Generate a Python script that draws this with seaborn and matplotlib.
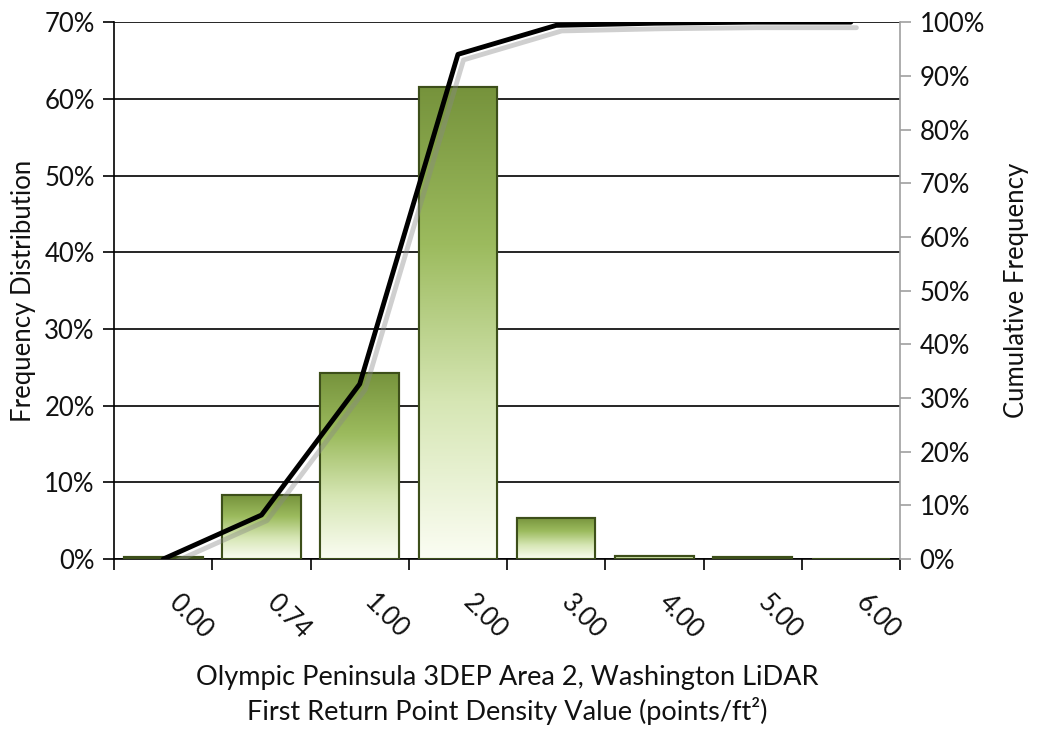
import numpy as np
import pandas as pd
import matplotlib
matplotlib.use('Agg')
import matplotlib.pyplot as plt
import matplotlib.patheffects as pe
from matplotlib.colors import LinearSegmentedColormap
from matplotlib.ticker import PercentFormatter, FixedLocator
import seaborn as sns

# Data
density_bins = ['0.00', '0.74', '1.00', '2.00', '3.00', '4.00', '5.00', '6.00']
freq_pct = [0.25, 8.3, 24.3, 61.5, 5.4, 0.45, 0.25, 0.0]
cum_pct = [0.0, 8.2, 32.6, 94.0, 99.4, 99.8, 100.0, 100.0]

sns.set_theme(style='white')
plt.rcParams['font.family'] = ['Lato', 'DejaVu Sans']
plt.rcParams['text.color'] = '#111111'
plt.rcParams['axes.labelcolor'] = '#111111'
plt.rcParams['xtick.color'] = '#111111'
plt.rcParams['ytick.color'] = '#111111'
FS = 18.5

fig = plt.figure(figsize=(10.38, 7.38), dpi=100)
ax = fig.add_axes([0.110, 0.2425, 0.757, 0.7275])

df = pd.DataFrame({'bin': density_bins, 'freq': freq_pct})
sns.barplot(data=df, x='bin', y='freq', ax=ax, color='#76933c', width=0.8,
            edgecolor='#3d4f1a', linewidth=1.5, zorder=3)

# gradient fill inside each bar (dark olive at top -> pale at bottom)
grad = LinearSegmentedColormap.from_list('olive', ['#fbfdf3', '#d6e6b4', '#9cbb5e', '#76933c'])
img = np.linspace(0, 1, 256).reshape(-1, 1)
for bar in ax.patches:
    x0, y0 = bar.get_x(), bar.get_y()
    w, h = bar.get_width(), bar.get_height()
    if h <= 0:
        continue
    im = ax.imshow(img, cmap=grad, origin='lower', aspect='auto',
                   extent=[x0, x0 + w, y0, y0 + h], zorder=3.5)
    im.set_clip_path(bar)
    # redraw outline on top
    ax.add_patch(plt.Rectangle((x0, y0), w, h, fill=False, edgecolor='#3d4f1a',
                               linewidth=1.5, zorder=4))

ax.set_xlim(-0.5, len(density_bins) - 0.5)
ax.set_ylim(0, 70)
ax.yaxis.set_major_locator(FixedLocator(np.arange(0, 71, 10)))
ax.yaxis.set_major_formatter(PercentFormatter(decimals=0))
ax.grid(axis='y', color='black', linewidth=1.2, zorder=0)
ax.set_axisbelow(True)

for side in ['top', 'right']:
    ax.spines[side].set_visible(False)
for side in ['left', 'bottom']:
    ax.spines[side].set_color('black')
    ax.spines[side].set_linewidth(1.2)

ax.tick_params(axis='y', which='major', direction='out', length=8, width=1.2,
               color='black', left=True, labelsize=FS, pad=6)
ax.tick_params(axis='x', which='major', length=0, labelsize=FS, pad=22)
ax.set_xticks(np.arange(len(density_bins)))
ax.set_xticklabels(density_bins, rotation=-45, ha='left', va='top')
ax.set_xticks(np.arange(-0.5, len(density_bins)), minor=True)
ax.tick_params(axis='x', which='minor', direction='out', length=8, width=1.2,
               color='black', bottom=True)

ax.set_xlabel('Olympic Peninsula 3DEP Area 2, Washington LiDAR\n'
              'First Return Point Density Value (points/ft\u00b2)',
              fontsize=19.5, labelpad=16, linespacing=1.3)
ax.set_ylabel('Frequency Distribution', fontsize=FS, labelpad=6)

# cumulative line on the right axis
ax2 = ax.twinx()
sns.lineplot(x=np.arange(len(density_bins)), y=cum_pct, ax=ax2, color='black',
             linewidth=3.5, zorder=5,
             path_effects=[pe.SimpleLineShadow(offset=(4, -4), shadow_color='#888888', alpha=0.4),
                           pe.Normal()])
ax2.set_ylim(0, 100)
ax2.set_xlim(-0.5, len(density_bins) - 0.5)
ax2.yaxis.set_major_locator(FixedLocator(np.arange(0, 101, 10)))
ax2.yaxis.set_major_formatter(PercentFormatter(decimals=0))
ax2.tick_params(axis='y', direction='out', length=8, width=1.2, color='#a0a0a0',
                right=True, labelsize=FS, pad=6)
for side in ['top', 'left', 'bottom']:
    ax2.spines[side].set_visible(False)
ax2.spines['right'].set_color('#a0a0a0')
ax2.spines['right'].set_linewidth(1.2)
ax2.set_ylabel('Cumulative Frequency', fontsize=FS, labelpad=14)
ax2.grid(False)

fig.savefig('out.png', dpi=100)
